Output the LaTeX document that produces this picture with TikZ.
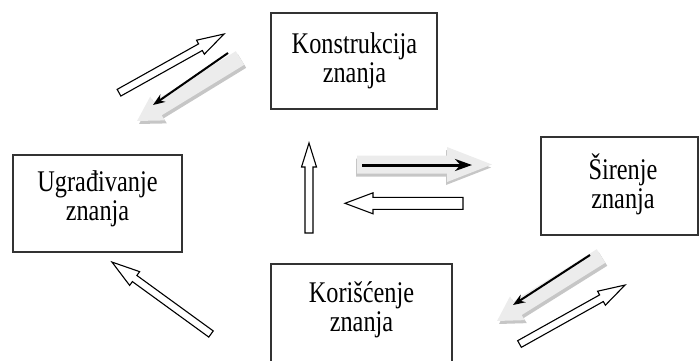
\documentclass[tikz,border=0pt]{standalone}
\usepackage{fontspec}
\setmainfont{Liberation Serif}[FakeStretch=0.81]
\usetikzlibrary{arrows.meta}

% Block arrow: #1 style, #2 tail point, #3 direction (deg), #4 length,
% #5 half shaft width, #6 half head width, #7 head length
\newcommand\blockarrow[7]{%
  \begin{scope}[shift={#2}, rotate=#3]
    \path[#1] (0,-#5) -- ({#4-#7},-#5) -- ({#4-#7},-#6) -- (#4,0)
      -- ({#4-#7},#6) -- ({#4-#7},#5) -- (0,#5) -- cycle;
  \end{scope}}

\begin{document}
\begin{tikzpicture}[x=1pt, y=-1pt,
  box/.style={draw=black!80, line width=1.3pt, inner sep=0pt},
  txt/.style={align=center, inner sep=0pt,
    font=\fontsize{30pt}{29pt}\selectfont},
  hollow/.style={draw=black, line width=1.1pt, fill=white, line join=miter},
  shadelight/.style={fill=gray!15},
  shadedark/.style={fill=gray!45},
  blackarrow/.style={line width=2pt, -{Stealth[length=12pt, width=9pt]}},
  thickarrow/.style={line width=3pt, -{Stealth[length=17pt, width=12pt]}}]
\useasboundingbox (0,0) rectangle (700,360);

% knowledge stages: frames and their captions
\node[box, minimum width=166pt, minimum height=96pt] (kon) at (354,61) {};
\node[txt] (kontxt) at (354.5,60.5) {Konstrukcija\\znanja};
\node[box, minimum width=169pt, minimum height=97pt] (ugr) at (97.5,203.5) {};
\node[txt] (ugrtxt) at (97.5,198.5) {Ugrađivanje\\znanja};
\node[box, minimum width=157pt, minimum height=98pt] (sir) at (619.5,186) {};
\node[txt] (sirtxt) at (623,184) {Širenje\\znanja};
\node[box, minimum width=181pt, minimum height=100pt] (kor) at (361.5,314) {};
\node[txt] (kortxt) at (361.5,310) {Korišćenje\\znanja};

% outlined block arrows
\blockarrow{hollow}{(119,92.7)}{29.2}{120.3}{3.8}{8}{27}
\blockarrow{hollow}{(519.5,344)}{29.2}{120.9}{3.8}{8}{27}
\blockarrow{hollow}{(211,334)}{144}{122.4}{3.8}{8.5}{28}
\blockarrow{hollow}{(309,233)}{90}{90}{4}{7.5}{24}
\blockarrow{hollow}{(463,203.3)}{180}{118}{6}{10.5}{28}

% shaded block arrows with black arrows on top
\blockarrow{shadedark}{(242,61)}{-148.55}{120.7}{8}{14}{24}
\blockarrow{shadelight}{(240,58)}{-148.55}{120.7}{8}{14}{24}
\coordinate (a2s) at (228,53);
\coordinate (a2e) at (153,105);
\draw[blackarrow] (a2s) -- (a2e);

\blockarrow{shadedark}{(356,167.5)}{0}{135}{9}{17.5}{45}
\blockarrow{shadelight}{(357,164.5)}{0}{135}{9}{17.5}{45}
\coordinate (a4s) at (362,165);
\coordinate (a4e) at (472,165);
\draw[thickarrow] (a4s) -- (a4e);

\blockarrow{shadedark}{(603,259)}{-148}{122.6}{8}{14}{24}
\blockarrow{shadelight}{(601,256)}{-148}{122.6}{8}{14}{24}
\coordinate (a6s) at (590,255);
\coordinate (a6e) at (513,305);
\draw[blackarrow] (a6s) -- (a6e);
\end{tikzpicture}
\end{document}
